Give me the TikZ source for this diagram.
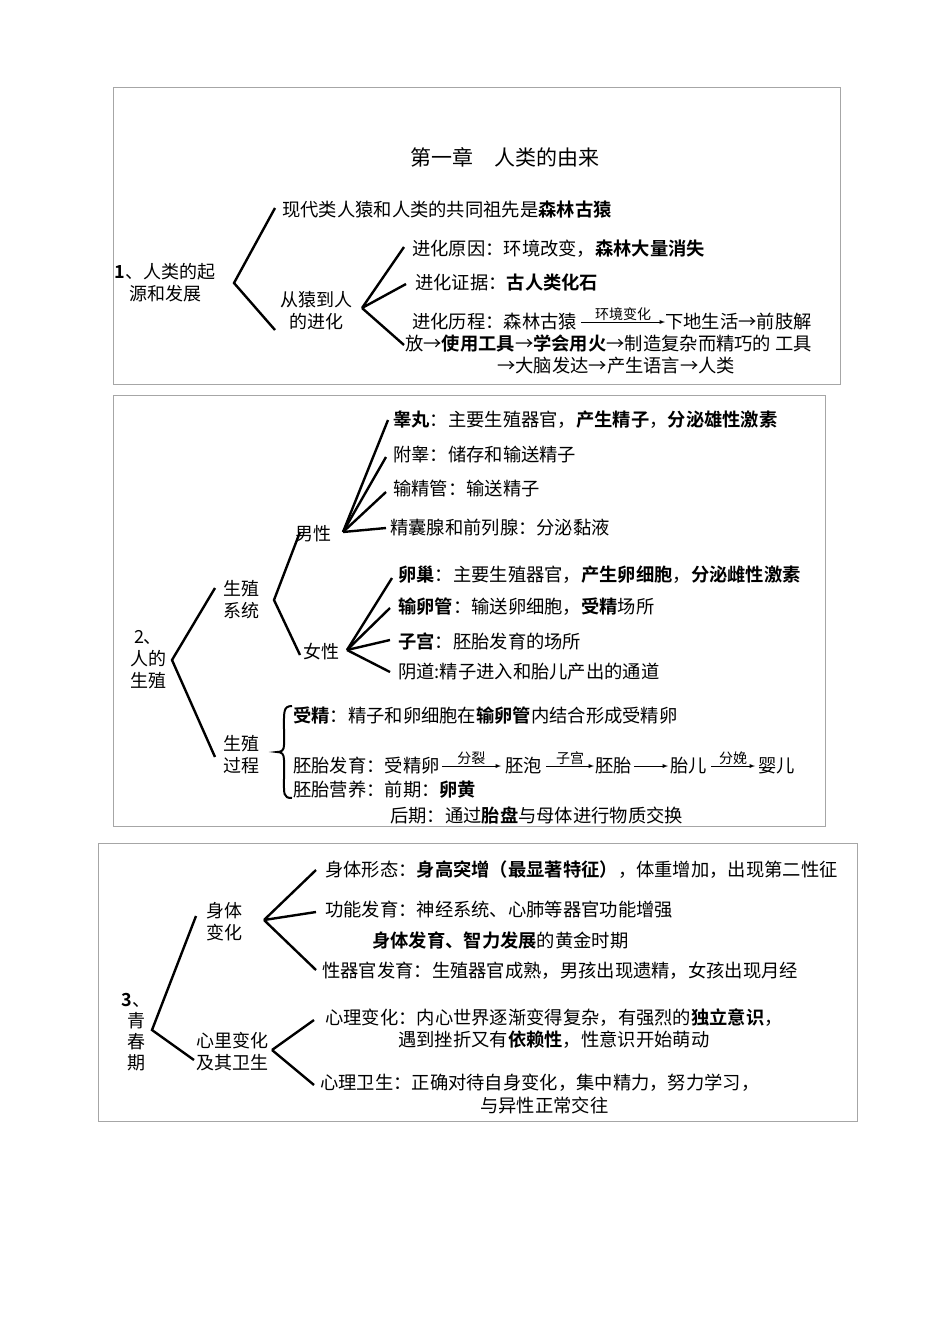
\documentclass[tikz,border=0pt]{standalone}
\usepackage{fontspec}
\setmainfont{Noto Sans CJK SC}[BoldFont={Noto Sans CJK SC Bold}]
\begin{document}
\begin{tikzpicture}[x=1pt,y=-1pt,
 t/.style={anchor=west,inner sep=0pt,font=\fontsize{18.3}{20}\selectfont},
 c/.style={align=center,inner sep=0pt,font=\fontsize{18}{22}\selectfont},
 sm/.style={inner sep=0pt,font=\fontsize{14}{16}\selectfont},
 br/.style={line width=2.4pt},
 bx/.style={draw=gray!70,line width=0.8pt},
 ar/.style={-latex,line width=0.9pt}]
\useasboundingbox[fill=white] (0,0) rectangle (950,1344);
% ---------- Box 1
\draw[bx] (113,87) rectangle (840,384);
\node[inner sep=0pt,font=\fontsize{21}{24}\selectfont] (title) at (505,157) {第一章\quad 人类的由来};
\node[c] (n1) at (165,283) {\textbf{1}、人类的起\\源和发展};
\coordinate (b1) at (234,283);
\coordinate (b1a) at (275,208);
\coordinate (b1b) at (275,330);
\draw[br] (b1a)--(b1)--(b1b);
\node[t] (a1) at (282,210) {现代类人猿和人类的共同祖先是\textbf{森林古猿}};
\node[c] (a2) at (316,311) {从猿到人\\的进化};
\coordinate (b2) at (362,308);
\coordinate (b2a) at (404,247);
\coordinate (b2b) at (406,284);
\coordinate (b2c) at (404,345);
\draw[br] (b2a)--(b2) (b2b)--(b2) (b2c)--(b2);
\node[t] (e1) at (412,249) {进化原因：环境改变，\textbf{森林大量消失}};
\node[t] (e2) at (415,283) {进化证据：\textbf{古人类化石}};
\node[t] (e3) at (412,322) {进化历程：森林古猿};
\node[t] (e3b) at (665,322) {下地生活→前肢解};
\draw[ar] (e3.east)++(4,0) coordinate (p1) -- (e3b.west) node[sm,midway,above=1pt] {环境变化};
\node[t] (e4) at (405,344) {放→\textbf{使用工具}→\textbf{学会用火}→制造复杂而精巧的 工具};
\node[t] (e5) at (497,366) {→大脑发达→产生语言→人类};
% ---------- Box 2
\draw[bx] (113,395) rectangle (825,826);
\node[c] (n2) at (148,660) {2、\\人的\\生殖};
\coordinate (c0) at (172,660);
\coordinate (c0a) at (215,588);
\coordinate (c0b) at (215,757);
\draw[br] (c0a)--(c0)--(c0b);
\node[c] (s1) at (241,600) {生殖\\系统};
\coordinate (c1) at (274,600);
\coordinate (c1a) at (300,532);
\coordinate (c1b) at (300,655);
\draw[br] (c1a)--(c1)--(c1b);
\node[c] (m) at (313,534) {男性};
\coordinate (cm) at (343,532);
\foreach \y/\xx in {420/388,457/386,492/386,528/386}{\draw[br] (cm)--(\xx,\y);}
\node[t] (m1) at (393,420) {\textbf{睾丸}：主要生殖器官，\textbf{产生精子}，\textbf{分泌雄性激素}};
\node[t] (m2) at (393,455) {附睾：储存和输送精子};
\node[t] (m3) at (393,489) {输精管：输送精子};
\node[t] (m4) at (390,528) {精囊腺和前列腺：分泌黏液};
\node[c] (f) at (321,652) {女性};
\coordinate (cf) at (347,650);
\foreach \y/\xx in {578/392,608/390,640/390,672/390}{\draw[br] (cf)--(\xx,\y);}
\node[t] (f1) at (398,575) {\textbf{卵巢}：主要生殖器官，\textbf{产生卵细胞}，\textbf{分泌雌性激素}};
\node[t] (f2) at (398,607) {\textbf{输卵管}：输送卵细胞，\textbf{受精}场所};
\node[t] (f3) at (398,641) {\textbf{子宫}：胚胎发育的场所};
\node[t] (f4) at (398,672) {阴道:精子进入和胎儿产出的通道};
\node[c] (s2) at (241,755) {生殖\\过程};
\draw[line width=2pt] (292,706) .. controls (283,706) and (284,712) .. (284,730) -- (284,745) .. controls (284,750) and (282,752) .. (277,752) .. controls (282,752) and (284,754) .. (284,760) -- (284,778) .. controls (284,794) and (283,798) .. (292,798);
\node[t] (g1) at (293,716) {\textbf{受精}：精子和卵细胞在\textbf{输卵管}内结合形成受精卵};
\node[t] (g2) at (293,766) {胚胎发育：受精卵};
\node[t] (g3) at (505,766) {胚泡};
\node[t] (g4) at (595,766) {胚胎};
\node[t] (g5) at (670,766) {胎儿};
\node[t] (g6) at (758,766) {婴儿};
\draw[ar] ([xshift=2pt]g2.east)--([xshift=-4pt]g3.west) node[sm,midway,above=1pt] {分裂};
\draw[ar] ([xshift=4pt]g3.east)--([xshift=-1pt]g4.west) node[sm,midway,above=1pt] {子宫};
\draw[ar] ([xshift=2pt]g4.east)--([xshift=-2pt]g5.west);
\draw[ar] ([xshift=4pt]g5.east)--([xshift=-3pt]g6.west) node[sm,midway,above=1pt] {分娩};
\node[t] (g7) at (293,790) {胚胎营养：前期：\textbf{卵黄}};
\node[t] (g8) at (390,815) {后期：通过\textbf{胎盘}与母体进行物质交换};
% ---------- Box 3
\draw[bx] (98,843) rectangle (857,1121);
\node[c,font=\fontsize{18}{21}\selectfont] (n3) at (136,1032) {\textbf{3}、\\青\\春\\期};
\coordinate (d0) at (152,1030);
\coordinate (d0a) at (196,916);
\coordinate (d0b) at (194,1060);
\draw[br] (d0a)--(d0)--(d0b);
\node[c] (h1) at (224,922) {身体\\变化};
\coordinate (d1) at (264,920);
\draw[br] (d1)--(316,870) (d1)--(316,912) (d1)--(316,970);
\node[t] (k1) at (325,870) {身体形态：\textbf{身高突增（最显著特征）}，体重增加，出现第二性征};
\node[t] (k2) at (325,910) {功能发育：神经系统、心肺等器官功能增强};
\node[t] (k3) at (372,940) {\textbf{身体发育、智力发展}的黄金时期};
\node[t] (k4) at (322,971) {性器官发育：生殖器官成熟，男孩出现遗精，女孩出现月经};
\node[c] (h2) at (232,1052) {心里变化\\及其卫生};
\coordinate (d2) at (272,1050);
\draw[br] (d2)--(314,1020) (d2)--(314,1085);
\node[t] (q1) at (325,1018) {心理变化：内心世界逐渐变得复杂，有强烈的\textbf{独立意识}，};
\node[t] (q2) at (398,1040) {遇到挫折又有\textbf{依赖性}，性意识开始萌动};
\node[t] (q3) at (320,1083) {心理卫生：正确对待自身变化，集中精力，努力学习，};
\node[t] (q4) at (480,1105) {与异性正常交往};
\end{tikzpicture}
\end{document}
